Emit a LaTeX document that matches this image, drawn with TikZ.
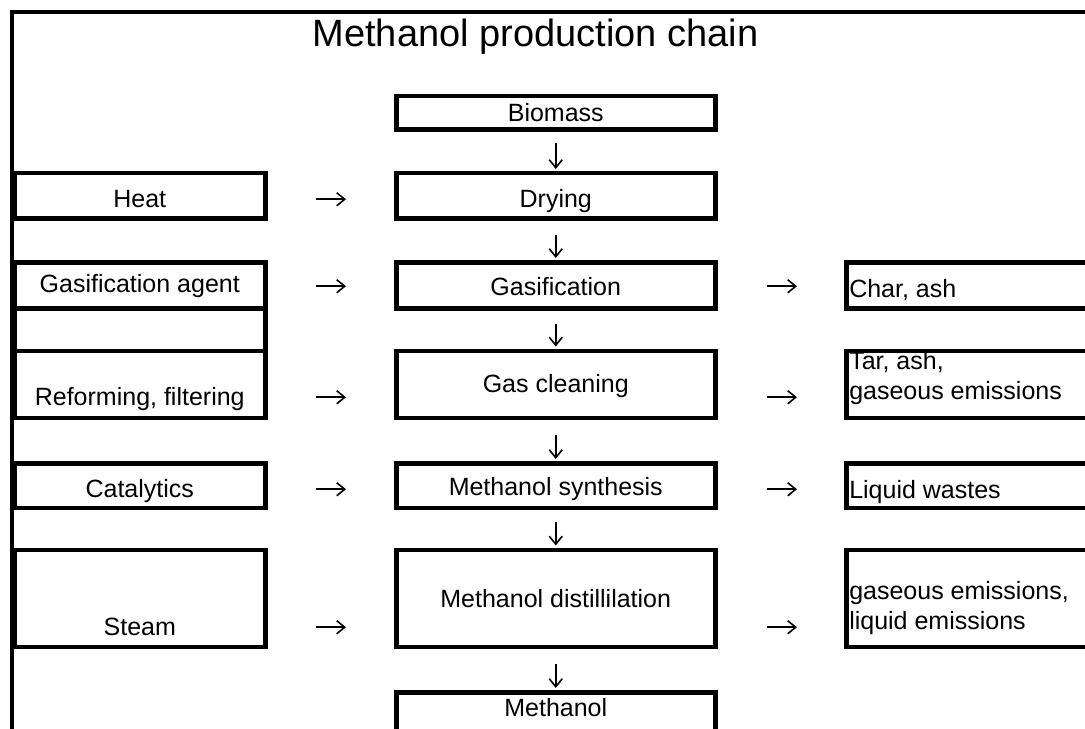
\documentclass[tikz,border=0pt]{standalone}
\usepackage{fontspec}
\setmainfont{Liberation Sans}
\usepackage{tikz}
\usetikzlibrary{arrows.meta}
\newcommand{\cellfnt}{\fontsize{25bp}{30bp}\selectfont}
\newcommand{\headfnt}{\fontsize{38bp}{45bp}\selectfont}
\newcommand{\twolines}[2]{\begin{tabular}[b]{@{}l@{}}#1\\#2\end{tabular}}
\newcommand{\lefttext}[1]{\makebox[290bp][l]{#1}}
\tikzset{
    % Cell styles - plain table cells
    inbox/.style={
        rectangle,
        draw=black,
        line width=4.5bp,
        inner sep=0pt,
        anchor=north west,
        minimum width=251bp,
        font=\cellfnt
    },
    stepbox/.style={
        rectangle,
        draw=black,
        line width=4.5bp,
        inner sep=0pt,
        anchor=north west,
        minimum width=319bp,
        font=\cellfnt
    },
    outbox/.style={
        rectangle,
        draw=black,
        line width=4.5bp,
        inner xsep=3bp,
        inner ysep=0pt,
        anchor=north west,
        font=\cellfnt
    },
    heading/.style={
        anchor=base,
        font=\headfnt
    },
    % Arrow style
    flow/.style={
        ->,
        >={Straight Barb[length=8bp,width=13bp]},
        line width=1.6bp,
        black
    },
    frame/.style={
        draw=black,
        line width=4.5bp
    }
}

\begin{document}
\begin{tikzpicture}[x=1bp,y=-1bp]
    \useasboundingbox (0,0) rectangle (1085,729);
    \fill[white] (0,0) rectangle (1085,729);
    \clip (0,0) rectangle (1085,729);

    % Frame and title
    \draw[frame] (1120,12) -- (12,12) -- (12,760);
    \node[heading] (title) at (535.5,47) {Methanol production chain};

    % Inputs
    \node[inbox, text height=34bp, text depth=11bp] (heat) at (12,171) {Heat};
    \node[inbox, text height=30bp, text depth=16bp] (agent) at (12,260) {Gasification agent};
    \node[inbox, minimum height=42.5bp] (spare) at (12,306) {};
    \node[inbox, text height=54.5bp, text depth=12.5bp] (reform) at (12,348.5) {Reforming, filtering};
    \node[inbox, text height=34bp, text depth=10.5bp] (catal) at (12,461) {Catalytics};
    \node[inbox, text height=85.5bp, text depth=11.5bp] (steam) at (12,547.5) {Steam};

    % Process steps
    \node[stepbox, text height=25bp, text depth=8.5bp] (biomass) at (394,94) {Biomass};
    \node[stepbox, text height=34bp, text depth=11bp] (drying) at (394,171) {Drying};
    \node[stepbox, text height=33bp, text depth=13bp] (gasif) at (394,260) {Gasification};
    \node[stepbox, text height=41.5bp, text depth=25.5bp] (clean) at (394,348.5) {Gas cleaning};
    \node[stepbox, text height=32bp, text depth=12.5bp] (synth) at (394,461) {Methanol synthesis};
    \node[stepbox, text height=57.5bp, text depth=39.5bp] (distil) at (394,547.5) {Methanol distillilation};
    \node[stepbox, text height=24bp, text depth=50bp] (methanol) at (394,690) {Methanol};

    % Outputs
    \node[outbox, text height=35bp, text depth=11bp] (char) at (844,260) {\lefttext{Char, ash}};
    \node[outbox, text height=48.5bp, text depth=18.5bp] (tar) at (844,348.5) {\lefttext{\twolines{Tar, ash,}{gaseous emissions}}};
    \node[outbox, text height=35bp, text depth=9.5bp] (waste) at (844,461) {\lefttext{Liquid wastes}};
    \node[outbox, text height=79.5bp, text depth=17.5bp] (emis) at (844,547.5) {\lefttext{\twolines{gaseous emissions,}{liquid emissions}}};

    % Main chain
    \draw[flow, shorten <=11bp, shorten >=2bp] (biomass.south) -- (drying.north);
    \draw[flow, shorten <=14bp, shorten >=2bp] (drying.south) -- (gasif.north);
    \draw[flow, shorten <=13bp, shorten >=2bp] (gasif.south) -- (clean.north);
    \draw[flow, shorten <=15bp, shorten >=2bp] (clean.south) -- (synth.north);
    \draw[flow, shorten <=12bp, shorten >=2bp] (synth.south) -- (distil.north);
    \draw[flow, shorten <=15bp, shorten >=2bp] (distil.south) -- (methanol.north);

    % Inputs into the steps
    \draw[flow, shorten <=48bp, shorten >=48bp] ([yshift=8bp]heat.base east) -- ([yshift=8bp]heat.base -| drying.west);
    \draw[flow, shorten <=48bp, shorten >=48bp] ([yshift=6bp]agent.base east) -- ([yshift=6bp]agent.base -| gasif.west);
    \draw[flow, shorten <=48bp, shorten >=48bp] ([yshift=8bp]reform.base east) -- ([yshift=8bp]reform.base -| clean.west);
    \draw[flow, shorten <=48bp, shorten >=48bp] ([yshift=8bp]catal.base east) -- ([yshift=8bp]catal.base -| synth.west);
    \draw[flow, shorten <=48bp, shorten >=48bp] ([yshift=8bp]steam.base east) -- ([yshift=8bp]steam.base -| distil.west);

    % Outputs of the steps
    \draw[flow, shorten <=49bp, shorten >=47bp] ([yshift=6bp]agent.base -| gasif.east) -- ([yshift=6bp]agent.base -| char.west);
    \draw[flow, shorten <=49bp, shorten >=47bp] ([yshift=8bp]reform.base -| clean.east) -- ([yshift=8bp]reform.base -| tar.west);
    \draw[flow, shorten <=49bp, shorten >=47bp] ([yshift=8bp]catal.base -| synth.east) -- ([yshift=8bp]catal.base -| waste.west);
    \draw[flow, shorten <=49bp, shorten >=47bp] ([yshift=8bp]steam.base -| distil.east) -- ([yshift=8bp]steam.base -| emis.west);
\end{tikzpicture}
\end{document}
